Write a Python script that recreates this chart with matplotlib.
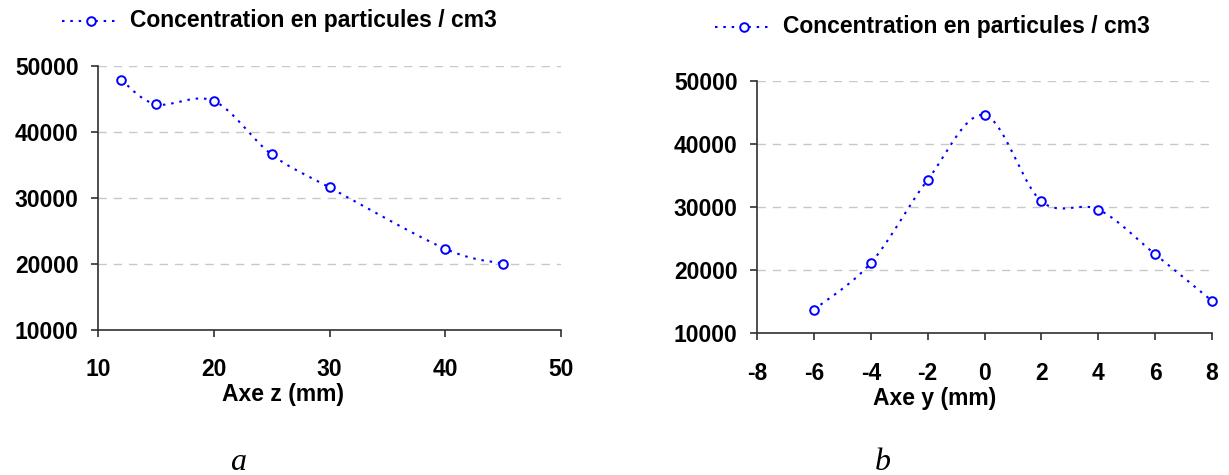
import numpy as np
import matplotlib
matplotlib.use("Agg")
import matplotlib.pyplot as plt
from matplotlib.lines import Line2D

# ---- data ----
z_mm = [12, 15, 20, 25, 30, 40, 45]
conc_z = [47900, 44200, 44700, 36600, 31600, 22300, 20050]
y_mm = [-6, -4, -2, 0, 2, 4, 6, 8]
conc_y = [13700, 21100, 34300, 44600, 30900, 29600, 22500, 15100]
series_label = "Concentration en particules / cm3"
xlabel_a = "Axe z (mm)"
xlabel_b = "Axe y (mm)"
yticks = [10000, 20000, 30000, 40000, 50000]
xticks_a = [10, 20, 30, 40, 50]
xticks_b = [-8, -6, -4, -2, 0, 2, 4, 6, 8]

W, H = 1229, 475
plt.rcParams['font.family'] = ['Liberation Sans', 'DejaVu Sans']
plt.rcParams['font.weight'] = 'bold'
fig = plt.figure(figsize=(W / 100, H / 100), dpi=100)

BLUE = '#0000ff'
LS = (0, (1.2, 2.8))
FS = 16.5


def smooth_curve(ax, xs, ys, n=40):
    """Excel-like smoothed line (Catmull-Rom Bezier) computed in pixel space."""
    pts = ax.transData.transform(np.column_stack([xs, ys]))
    out = []
    m = len(pts)
    for i in range(m - 1):
        p0 = pts[i - 1] if i > 0 else pts[i]
        p1 = pts[i]
        p2 = pts[i + 1]
        p3 = pts[i + 2] if i + 2 < m else pts[i + 1]
        b1 = p1 + (p2 - p0) / 6.0
        b2 = p2 - (p3 - p1) / 6.0
        t = np.linspace(0, 1, n)[:, None]
        seg = ((1 - t) ** 3) * p1 + 3 * ((1 - t) ** 2) * t * b1 + 3 * (1 - t) * t ** 2 * b2 + t ** 3 * p2
        out.append(seg if i == 0 else seg[1:])
    out = np.vstack(out)
    return ax.transData.inverted().transform(out)


def make_panel(rect, xs, ys, xlim, xticks, xlabel, xpad):
    ax = fig.add_axes(rect)
    ax.set_xlim(*xlim)
    ax.set_ylim(10000, 50000)
    ax.set_xticks(xticks)
    ax.set_yticks(yticks)
    ax.set_xticklabels([str(v) for v in xticks])
    ax.set_yticklabels([str(v) for v in yticks])
    for s in ['top', 'right']:
        ax.spines[s].set_visible(False)
    ax.spines['left'].set_color('#303030')
    ax.spines['bottom'].set_color('#303030')
    ax.spines['left'].set_linewidth(1.2)
    ax.spines['bottom'].set_linewidth(1.2)
    ax.tick_params(axis='both', direction='out', length=5, width=1.2, color='#303030',
                   labelsize=FS)
    ax.tick_params(axis='x', pad=xpad)
    ax.tick_params(axis='y', pad=9)
    for lab in ax.get_xticklabels() + ax.get_yticklabels():
        lab.set_fontweight('bold')
    for v in yticks[1:]:
        ax.axhline(v, color='#c8c8c8', lw=1.0, ls=(0, (6, 5)), zorder=0)
    ax.set_xlabel(xlabel, fontsize=FS, fontweight='bold', labelpad=0)
    fig.canvas.draw()
    c = smooth_curve(ax, xs, ys)
    ax.plot(c[:, 0], c[:, 1], color=BLUE, lw=1.5, ls=LS, zorder=3, clip_on=False)
    ax.plot(xs, ys, ls='none', marker='o', ms=6.2, mfc='white', mec=BLUE, mew=1.4,
            zorder=4, clip_on=False)
    return ax


axA = make_panel([98 / W, 1 - 330 / H, 463 / W, 264 / H], z_mm, conc_z, (10, 50), xticks_a,
                 xlabel_a, 15)
axB = make_panel([757 / W, 1 - 333 / H, 455 / W, 252 / H], y_mm, conc_y, (-8, 8), xticks_b,
                 xlabel_b, 16)
axA.xaxis.set_label_coords(0.40, -0.20)
axB.xaxis.set_label_coords(0.39, -0.215)


def legend_at(x0, x1, y):
    yf = 1 - y / H
    fig.add_artist(Line2D([x0 / W, x1 / W], [yf, yf], transform=fig.transFigure,
                          color=BLUE, lw=1.5, ls=LS))
    fig.add_artist(Line2D([(x0 + x1) / 2 / W], [yf], transform=fig.transFigure, ls='none',
                          marker='o', ms=6.2, mfc='white', mec=BLUE, mew=1.4))
    fig.text((x1 + 10) / W, yf, series_label, fontsize=FS, fontweight='bold',
             ha='left', va='center')


legend_at(62, 120, 21)
legend_at(715, 773, 27)

fig.text(238 / W, 1 - 462 / H, 'a', fontsize=23, style='italic', fontweight='normal',
         family=['Liberation Serif', 'DejaVu Serif'], ha='center', va='center')
fig.text(883 / W, 1 - 462 / H, 'b', fontsize=23, style='italic', fontweight='normal',
         family=['Liberation Serif', 'DejaVu Serif'], ha='center', va='center')

fig.savefig('out.png', dpi=100)
